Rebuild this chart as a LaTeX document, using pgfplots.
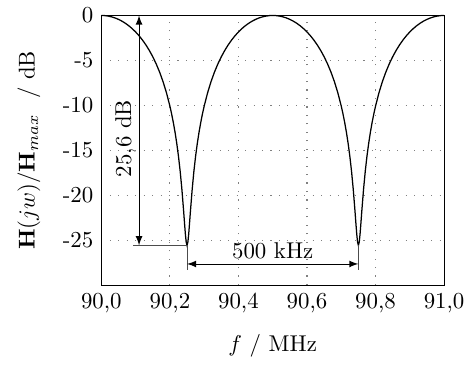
\documentclass[border=0pt]{standalone}
\usepackage{pgfplots}
\pgfplotsset{compat=1.18}
\begin{document}
\begin{tikzpicture}
\begin{axis}[
  scale only axis,
  width=150pt, height=118pt,
  xmin=90, xmax=91, ymin=-30, ymax=0,
  xtick={90,90.2,90.4,90.6,90.8,91},
  xticklabels={90{,}0,90{,}2,90{,}4,90{,}6,90{,}8,91{,}0},
  ytick={-25,-20,-15,-10,-5,0},
  yticklabels={-25,-20,-15,-10,-5,0},
  major tick length=0pt,
  grid=major,
  major grid style={gray, line width=0.5pt, dash pattern=on 0.5pt off 3.2pt},
  xlabel={$f$ / MHz},
  ylabel={$\mathbf{H}(jw)/\mathbf{H}_{max}$ \ / dB},
  xlabel shift=2.5pt,
  ylabel shift=3pt,
  axis line style={line width=0.5pt},
  clip=false,
]
\addplot[black, line width=0.55pt] coordinates {
(90.00,0) (90.01,-0.017) (90.02,-0.069) (90.03,-0.155) (90.04,-0.277) (90.05,-0.435) (90.06,-0.631) (90.07,-0.866) (90.08,-1.143) (90.09,-1.465) (90.10,-1.835) (90.11,-2.256) (90.12,-2.735) (90.13,-3.278) (90.14,-3.894) (90.15,-4.593) (90.16,-5.390) (90.17,-6.304) (90.18,-7.362) (90.19,-8.604) (90.20,-10.088) (90.205,-10.948) (90.21,-11.908) (90.215,-12.991) (90.22,-14.227) (90.225,-15.658) (90.23,-17.343) (90.235,-19.355) (90.24,-21.737) (90.2425,-23.025) (90.245,-24.255) (90.2475,-25.206) (90.25,-25.58)
(90.2525,-25.206) (90.255,-24.255) (90.2575,-23.025) (90.26,-21.737) (90.265,-19.355) (90.27,-17.343) (90.275,-15.658) (90.28,-14.227) (90.285,-12.991) (90.29,-11.908) (90.295,-10.948) (90.30,-10.088) (90.31,-8.604) (90.32,-7.362) (90.33,-6.304) (90.34,-5.390) (90.35,-4.593) (90.36,-3.894) (90.37,-3.278) (90.38,-2.735) (90.39,-2.256) (90.40,-1.835) (90.41,-1.465) (90.42,-1.143) (90.43,-0.866) (90.44,-0.631) (90.45,-0.435) (90.46,-0.277) (90.47,-0.155) (90.48,-0.069) (90.49,-0.017) (90.50,0)
(90.51,-0.017) (90.52,-0.069) (90.53,-0.155) (90.54,-0.277) (90.55,-0.435) (90.56,-0.631) (90.57,-0.866) (90.58,-1.143) (90.59,-1.465) (90.60,-1.835) (90.61,-2.256) (90.62,-2.735) (90.63,-3.278) (90.64,-3.894) (90.65,-4.593) (90.66,-5.390) (90.67,-6.304) (90.68,-7.362) (90.69,-8.604) (90.70,-10.088) (90.705,-10.948) (90.71,-11.908) (90.715,-12.991) (90.72,-14.227) (90.725,-15.658) (90.73,-17.343) (90.735,-19.355) (90.74,-21.737) (90.7425,-23.025) (90.745,-24.255) (90.7475,-25.206) (90.75,-25.58)
(90.7525,-25.206) (90.755,-24.255) (90.7575,-23.025) (90.76,-21.737) (90.765,-19.355) (90.77,-17.343) (90.775,-15.658) (90.78,-14.227) (90.785,-12.991) (90.79,-11.908) (90.795,-10.948) (90.80,-10.088) (90.81,-8.604) (90.82,-7.362) (90.83,-6.304) (90.84,-5.390) (90.85,-4.593) (90.86,-3.894) (90.87,-3.278) (90.88,-2.735) (90.89,-2.256) (90.90,-1.835) (90.91,-1.465) (90.92,-1.143) (90.93,-0.866) (90.94,-0.631) (90.95,-0.435) (90.96,-0.277) (90.97,-0.155) (90.98,-0.069) (90.99,-0.017) (91.00,0)
};
% annotations
\draw[black, thin, <->, >=latex] (axis cs:90.11,0) -- (axis cs:90.11,-25.58);
\draw[black!70, thin] (axis cs:90.093,-25.58) -- (axis cs:90.25,-25.58);
\draw[black!70, thin] (axis cs:90.25,-25.58) -- (axis cs:90.25,-28.3);
\draw[black!70, thin] (axis cs:90.75,-25.58) -- (axis cs:90.75,-28.3);
\draw[black, thin, <->, >=latex] (axis cs:90.25,-27.65) -- (axis cs:90.75,-27.65);
\node[rotate=90] at (axis cs:90.07,-13.7) {25,6 dB};
\node at (axis cs:90.5,-26.2) {500 kHz};
\end{axis}
\path ([xshift=-4.3pt,yshift=-1.5pt]current axis.outer south west);
\end{tikzpicture}
\end{document}
